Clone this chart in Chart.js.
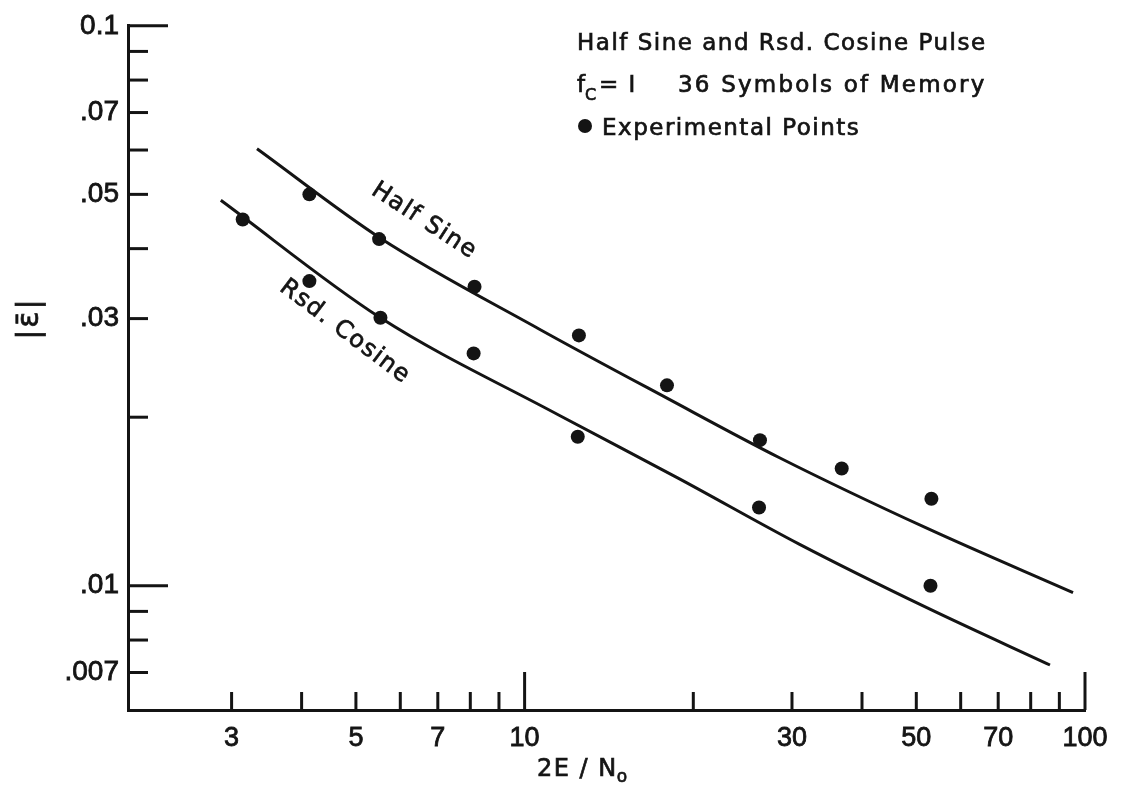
<!DOCTYPE html>
<html>
<head>
<meta charset="utf-8">
<script src="https://cdn.jsdelivr.net/npm/chart.js@4"></script>
<style>
  html, body { margin: 0; padding: 0; background: #fff; }
  #wrap { width: 1125px; height: 785px; }
</style>
</head>
<body>
<div id="wrap"><canvas id="chart"></canvas></div>
<script>
// values
const xTickValues = [3, 4, 5, 6, 7, 8, 9, 10, 20, 30, 40, 50, 60, 70, 80, 90, 100];
const xTickLabels = ['3', '', '5', '', '7', '', '', '10', '', '30', '', '50', '', '70', '', '', '100'];
const yTickValues = [0.007, 0.008, 0.009, 0.01, 0.02, 0.03, 0.04, 0.05, 0.06, 0.07, 0.08, 0.09, 0.1];
const yTickLabels = ['.007', '', '', '.01', '', '.03', '', '.05', '', '.07', '', '', '0.1'];

const halfSineCurveX = [3.33, 5.53, 10.59, 17.95, 28.5, 52.2, 95.2];
const halfSineCurveY = [0.0603, 0.04175, 0.02878, 0.02163, 0.01693, 0.01267, 0.00972];
const rsdCosineCurveX = [2.87, 5.53, 11.5, 18.86, 30.9, 52.2, 86.6];
const rsdCosineCurveY = [0.0488, 0.0301, 0.02018, 0.01554, 0.01187, 0.00914, 0.00722];

const halfSinePointsX = [4.13, 5.50, 8.14, 12.5, 17.95, 26.3, 36.8, 53.2];
const halfSinePointsY = [0.0500, 0.0416, 0.0342, 0.0280, 0.0228, 0.0182, 0.0162, 0.0143];
const rsdCosinePointsX = [3.14, 4.13, 5.53, 8.11, 12.44, 26.2, 53.0];
const rsdCosinePointsY = [0.0451, 0.0350, 0.0301, 0.0260, 0.01845, 0.0138, 0.0100];

const curveNotes = [
  { text: 'Half Sine', x: 6.62, y: 0.0448, angle: 33 },
  { text: 'Rsd. Cosine', x: 4.78, y: 0.0284, angle: 37 }
];

const ink = '#141414';
const fontFamily = '"Liberation Sans", Arial, sans-serif';
const letterFont = '"DejaVu Sans", sans-serif';

const zip = (xs, ys) => xs.map((x, i) => ({ x: x, y: ys[i] }));
const labelFor = (values, labels, v) => {
  const i = values.findIndex(t => Math.abs(t - v) / t < 1e-6);
  return i < 0 ? '' : labels[i];
};

// tick marks drawn inside the frame, longer at each decade
const inwardTicks = {
  id: 'inwardTicks',
  afterDraw(chart) {
    const ctx = chart.ctx;
    const xs = chart.scales.x, ys = chart.scales.y;
    const area = chart.chartArea;
    ctx.save();
    ctx.strokeStyle = ink;
    ctx.lineWidth = 3;
    xTickValues.forEach(v => {
      const px = xs.getPixelForValue(v);
      const len = (v === 10 || v === 100) ? 38 : 18;
      ctx.beginPath();
      ctx.moveTo(px, area.bottom);
      ctx.lineTo(px, area.bottom - len);
      ctx.stroke();
    });
    yTickValues.forEach(v => {
      const py = ys.getPixelForValue(v);
      const len = (v === 0.1 || v === 0.01) ? 40 : 20;
      ctx.beginPath();
      ctx.moveTo(area.left, py);
      ctx.lineTo(area.left + len, py);
      ctx.stroke();
    });
    ctx.restore();
  }
};

// heavier lettering: fill plus a thin outline
function letter(ctx, text, x, y) {
  ctx.fillText(text, x, y);
  ctx.strokeText(text, x, y);
}

// curve names, axis titles and the caption block
const lettering = {
  id: 'lettering',
  afterDraw(chart) {
    const ctx = chart.ctx;
    const xs = chart.scales.x, ys = chart.scales.y;
    ctx.save();
    ctx.fillStyle = ink;
    ctx.strokeStyle = ink;
    ctx.lineWidth = 0.7;
    ctx.letterSpacing = '1.5px';

    curveNotes.forEach(n => {
      ctx.save();
      ctx.translate(xs.getPixelForValue(n.x), ys.getPixelForValue(n.y));
      ctx.rotate(n.angle * Math.PI / 180);
      ctx.font = '24px ' + letterFont;
      ctx.textAlign = 'center';
      ctx.textBaseline = 'middle';
      letter(ctx, n.text, 0, 0);
      ctx.restore();
    });

    // caption
    ctx.textAlign = 'left';
    ctx.textBaseline = 'alphabetic';
    ctx.font = '23px ' + letterFont;
    letter(ctx, 'Half Sine and Rsd. Cosine Pulse', 577, 50);
    letter(ctx, 'f', 577, 92);
    ctx.font = '16px ' + letterFont;
    letter(ctx, 'C', 585, 100);
    ctx.font = '23px ' + letterFont;
    letter(ctx, '= I', 599, 92);
    ctx.letterSpacing = '2.2px';
    letter(ctx, '36 Symbols of Memory', 678, 92);
    ctx.letterSpacing = '1.5px';
    ctx.beginPath();
    ctx.arc(585, 126, 7, 0, Math.PI * 2);
    ctx.fill();
    letter(ctx, 'Experimental Points', 602, 135);

    // x axis title
    ctx.font = '24px ' + letterFont;
    letter(ctx, '2E / N', 537, 776);
    const w = ctx.measureText('2E / N').width;
    ctx.font = '17px ' + letterFont;
    letter(ctx, 'o', 536 + w, 782);

    // y axis title
    ctx.save();
    ctx.translate(30, ys.getPixelForValue(0.03));
    ctx.rotate(-Math.PI / 2);
    ctx.letterSpacing = '2px';
    ctx.font = '30px ' + letterFont;
    ctx.textAlign = 'center';
    ctx.textBaseline = 'middle';
    letter(ctx, '|\u03B5\u0304|', 0, 0);
    ctx.restore();

    ctx.restore();
  }
};

new Chart(document.getElementById('chart'), {
  type: 'scatter',
  data: {
    datasets: [
      {
        label: 'Half Sine',
        data: zip(halfSineCurveX, halfSineCurveY),
        showLine: true,
        borderColor: ink,
        borderWidth: 3,
        pointRadius: 0,
        cubicInterpolationMode: 'monotone'
      },
      {
        label: 'Rsd. Cosine',
        data: zip(rsdCosineCurveX, rsdCosineCurveY),
        showLine: true,
        borderColor: ink,
        borderWidth: 3,
        pointRadius: 0,
        cubicInterpolationMode: 'monotone'
      },
      {
        label: 'Half Sine experimental',
        data: zip(halfSinePointsX, halfSinePointsY),
        showLine: false,
        pointRadius: 7,
        pointBackgroundColor: ink,
        pointBorderWidth: 0
      },
      {
        label: 'Rsd. Cosine experimental',
        data: zip(rsdCosinePointsX, rsdCosinePointsY),
        showLine: false,
        pointRadius: 7,
        pointBackgroundColor: ink,
        pointBorderWidth: 0
      }
    ]
  },
  options: {
    responsive: true,
    maintainAspectRatio: false,
    animation: false,
    layout: { padding: { top: 22, right: 40, left: 0, bottom: 0 } },
    plugins: {
      legend: { display: false },
      tooltip: { enabled: false }
    },
    scales: {
      x: {
        type: 'logarithmic',
        min: 1.96,
        max: 100,
        grid: { display: false, drawTicks: false },
        border: { display: true, color: ink, width: 3 },
        afterBuildTicks: s => { s.ticks = xTickValues.map(v => ({ value: v })); },
        afterFit: s => { s.height = 75; },
        ticks: {
          autoSkip: false,
          maxRotation: 0,
          padding: 12,
          color: ink,
          textStrokeColor: ink,
          textStrokeWidth: 0.8,
          font: { family: fontFamily, size: 27 },
          callback: v => labelFor(xTickValues, xTickLabels, v)
        }
      },
      y: {
        type: 'logarithmic',
        min: 0.006,
        max: 0.1,
        grid: { display: false, drawTicks: false },
        border: { display: true, color: ink, width: 3 },
        afterBuildTicks: s => { s.ticks = yTickValues.map(v => ({ value: v })); },
        afterFit: s => { s.width = 128; },
        ticks: {
          autoSkip: false,
          padding: 9,
          color: ink,
          textStrokeColor: ink,
          textStrokeWidth: 0.8,
          font: { family: fontFamily, size: 28 },
          callback: v => labelFor(yTickValues, yTickLabels, v)
        }
      }
    }
  },
  plugins: [inwardTicks, lettering]
});
</script>
</body>
</html>
